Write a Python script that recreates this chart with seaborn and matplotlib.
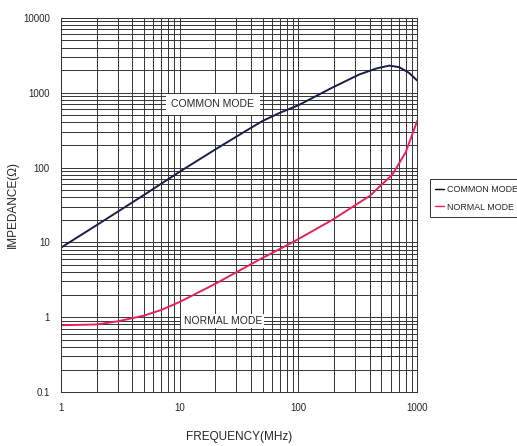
import pandas as pd
import matplotlib
matplotlib.use("Agg")
import matplotlib.pyplot as plt
import seaborn as sns
from matplotlib.ticker import FixedLocator, FixedFormatter, LogLocator, NullFormatter

# -------- DATA --------
freq_common = [1, 2, 5, 10, 20, 35, 50, 70, 100, 193, 325, 450, 580, 700, 850, 1000]
z_common = [8.5, 17, 43, 88, 175, 300, 420, 540, 680, 1170, 1750, 2100, 2300, 2200, 1850, 1450]

freq_normal = [1, 2, 3, 5, 7, 10, 20, 47, 89, 193, 400, 620, 800, 1000]
z_normal = [0.78, 0.8, 0.88, 1.05, 1.25, 1.6, 2.8, 5.9, 10, 20, 42, 81, 160, 420]

df = pd.concat([
    pd.DataFrame({"freq": freq_common, "z": z_common, "mode": "COMMON MODE"}),
    pd.DataFrame({"freq": freq_normal, "z": z_normal, "mode": "NORMAL MODE"}),
])

sns.set_style("white")
plt.rcParams['font.family'] = ['Liberation Sans Narrow', 'Liberation Sans', 'DejaVu Sans']

fig = plt.figure(figsize=(5.17, 4.46), dpi=100)
ax = fig.add_axes([0.118, 0.121, 0.689, 0.839])

palette = {"COMMON MODE": "#1c1c4a", "NORMAL MODE": "#e8215a"}
sns.lineplot(data=df, x="freq", y="z", hue="mode", palette=palette,
             linewidth=1.4, ax=ax, legend=False, sort=False)

ax.set_xscale("log")
ax.set_yscale("log")
ax.set_xlim(1, 1000)
ax.set_ylim(0.1, 10000)

# grid
ax.xaxis.set_minor_locator(LogLocator(base=10, subs=range(2, 10)))
ax.yaxis.set_minor_locator(LogLocator(base=10, subs=range(2, 10)))
ax.xaxis.set_minor_formatter(NullFormatter())
ax.yaxis.set_minor_formatter(NullFormatter())
ax.grid(True, which="both", color="#333333", linewidth=0.7)
ax.set_axisbelow(True)

xt = [1, 10, 100, 1000]
yt = [0.1, 1, 10, 100, 1000, 10000]
ax.xaxis.set_major_locator(FixedLocator(xt))
ax.xaxis.set_major_formatter(FixedFormatter(["1", "10", "100", "1000"]))
ax.yaxis.set_major_locator(FixedLocator(yt))
ax.yaxis.set_major_formatter(FixedFormatter(["0.1", "1", "10", "100", "1000", "10000"]))
ax.tick_params(axis="both", which="both", length=0, labelsize=7, pad=8)

for s in ax.spines.values():
    s.set_color("#333333")
    s.set_linewidth(0.7)

ax.set_xlabel("FREQUENCY(MHz)", fontsize=8.5, labelpad=13)
ax.set_ylabel("IMPEDANCE(Ω)", fontsize=8.5, labelpad=3)

# in-plot labels
ax.text(19, 700, "COMMON MODE", fontsize=7.5, va="center", ha="center",
        bbox=dict(facecolor="white", edgecolor="none", pad=4))
ax.text(23, 0.88, "NORMAL MODE", fontsize=7.5, va="center", ha="center",
        bbox=dict(facecolor="white", edgecolor="none", pad=1.5))

# legend outside
handles = [plt.Line2D([], [], color="black", lw=1),
           plt.Line2D([], [], color=palette["NORMAL MODE"], lw=1)]
leg = fig.legend(handles, ["COMMON MODE", "NORMAL MODE"], loc="upper left",
                 bbox_to_anchor=(0.832, 0.598), fontsize=6.4, frameon=True,
                 fancybox=False, edgecolor="black", handlelength=1.0,
                 handletextpad=0.3, borderpad=0.6, labelspacing=1.0,
                 borderaxespad=0)
leg.get_frame().set_linewidth(0.7)

fig.savefig("out.png", dpi=100)
